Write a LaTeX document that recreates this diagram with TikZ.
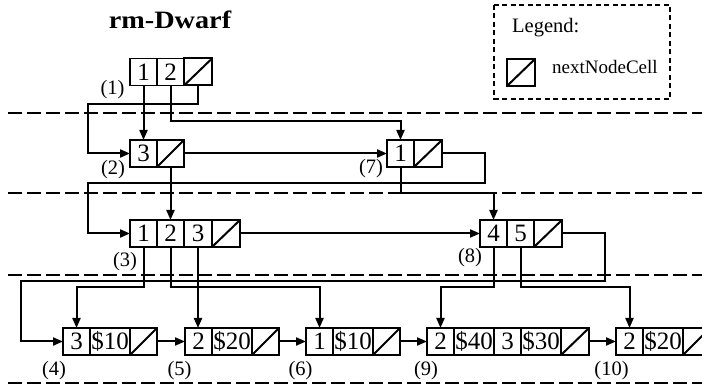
\documentclass[tikz,border=0pt]{standalone}
\usepackage{fontspec}
\setmainfont{Liberation Serif}
\usetikzlibrary{arrows.meta,positioning}
\tikzset{
  cellbox/.style={draw, line width=1.3pt, minimum height=27pt, minimum width=27pt,
    inner sep=0pt, outer sep=0pt, font=\fontsize{25}{25}\selectfont, anchor=west},
  valbox/.style={cellbox, minimum width=40pt},
  nextbox/.style={cellbox, line width=2pt, path picture={\draw[line width=2pt]
    (path picture bounding box.south west) -- (path picture bounding box.north east);}},
  link/.style={line width=2pt, -{Triangle[length=10pt,width=8pt]}},
  level/.style={line width=1.8pt, dash pattern=on 13.5pt off 5.5pt},
  lbl/.style={font=\fontsize{20.5}{20.5}\selectfont, inner sep=0pt},
}
\begin{document}
\begin{tikzpicture}[x=1pt,y=-1pt]
\useasboundingbox (0,0) rectangle (702,387);

% level separators
\draw[level] (8,113) -- (702,113);
\draw[level] (8,193) -- (702,193);
\draw[level] (8,275) -- (702,275);
\draw[level] (8,383) -- (702,383);

% title
\node[font=\bfseries\fontsize{25}{25}\selectfont, inner sep=0pt] (title) at (170,20) {\scalebox{1.13}[1]{rm-Dwarf}};

% legend
\draw[line width=1.6pt, dash pattern=on 5pt off 3.5pt] (494,5) rectangle (670,99);
\node[lbl, anchor=west] (legt) at (512,28) {Legend:};
\node[nextbox, minimum width=28pt, anchor=center] (legc) at (521,72.5) {};
\node[lbl, font=\fontsize{19}{19}\selectfont, anchor=west] (legn) at (552,67) {nextNodeCell};

% root
\node[cellbox] (r1) at (130,72) {1};
\node[cellbox, right=0pt of r1] (r2) {2};
\node[nextbox, minimum width=28pt, right=0pt of r2] (r3) {};
\node[lbl] (l1) at (112.5,90) {(1)};

% node (2)
\node[cellbox] (a1) at (130,153.5) {3};
\node[nextbox, right=0pt of a1] (a2) {};
\node[lbl] (l2) at (113,170) {(2)};

% node (7)
\node[cellbox] (b1) at (387,153.5) {1};
\node[nextbox, minimum width=28pt, right=0pt of b1] (b2) {};
\node[lbl] (l7) at (371,169) {(7)};

% node (3)
\node[cellbox] (c1) at (130,233.5) {1};
\node[cellbox, right=0pt of c1] (c2) {2};
\node[cellbox, minimum width=28pt, right=0pt of c2] (c3) {3};
\node[nextbox, minimum width=28pt, right=0pt of c3] (c4) {};
\node[lbl] (l3) at (125,262) {(3)};

% node (8)
\node[cellbox] (d1) at (480,233.5) {4};
\node[cellbox, right=0pt of d1] (d2) {5};
\node[nextbox, minimum width=28pt, right=0pt of d2] (d3) {};
\node[lbl] (l8) at (470,258) {(8)};

% leaves
\node[cellbox] (e1) at (63,341.5) {3};
\node[valbox, right=0pt of e1] (e2) {\$10};
\node[nextbox, right=0pt of e2] (e3) {};
\node[lbl] (l4) at (54,371) {(4)};

\node[cellbox] (f1) at (185,341.5) {2};
\node[valbox, right=0pt of f1] (f2) {\$20};
\node[nextbox, right=0pt of f2] (f3) {};
\node[lbl] (l5) at (179.5,371) {(5)};

\node[cellbox] (g1) at (306,341.5) {1};
\node[valbox, right=0pt of g1] (g2) {\$10};
\node[nextbox, right=0pt of g2] (g3) {};
\node[lbl] (l6) at (300.5,371) {(6)};

\node[cellbox] (h1) at (427,341.5) {2};
\node[valbox, right=0pt of h1] (h2) {\$40};
\node[cellbox, right=0pt of h2] (h3) {3};
\node[valbox, right=0pt of h3] (h4) {\$30};
\node[nextbox, minimum width=28pt, right=0pt of h4] (h5) {};
\node[lbl] (l9) at (426,371) {(9)};

\node[cellbox] (k1) at (616,341.5) {2};
\node[valbox, right=0pt of k1] (k2) {\$20};
\node[nextbox, right=0pt of k2] (k3) {};
\node[lbl] (l10) at (611.5,371) {(10)};

% connectors
\draw[link] (r1.south) -- (a1.north);
\draw[link] (r3.south) |- (88,104) |- (a1.west);
\draw[link] (r2.south) -- ++(0,35.5) -| (b1.north);
\draw[link] (a2.east) -- (b1.west);
\draw[link] (a2.south) -- (c2.north);
\draw[link] (b2.east) -- ++(43,0) |- (88,183) |- (c1.west);
\draw[link] (b1.south) -- ++(0,26) -| (d1.north);
\draw[link] (c4.east) -- (d1.west);
\draw[link] (c1.south) -- ++(0,40) -| (e1.north);
\draw[link] (c2.south) -- ++(0,40) -| (g1.north);
\draw[link] (c3.south) -- (c3.south |- f1.north);
\draw[link] (d3.east) -- ++(43,0) |- (21,281) |- (e1.west);
\draw[link] (d1.south) -- ++(0,40) -| (h1.north);
\draw[link] (d2.south) -- ++(0,40) -| (k1.north);
\draw[link] (e3.east) -- (f1.west);
\draw[link] (f3.east) -- (g1.west);
\draw[link] (g3.east) -- (h1.west);
\draw[link] (h5.east) -- (k1.west);
\end{tikzpicture}
\end{document}
